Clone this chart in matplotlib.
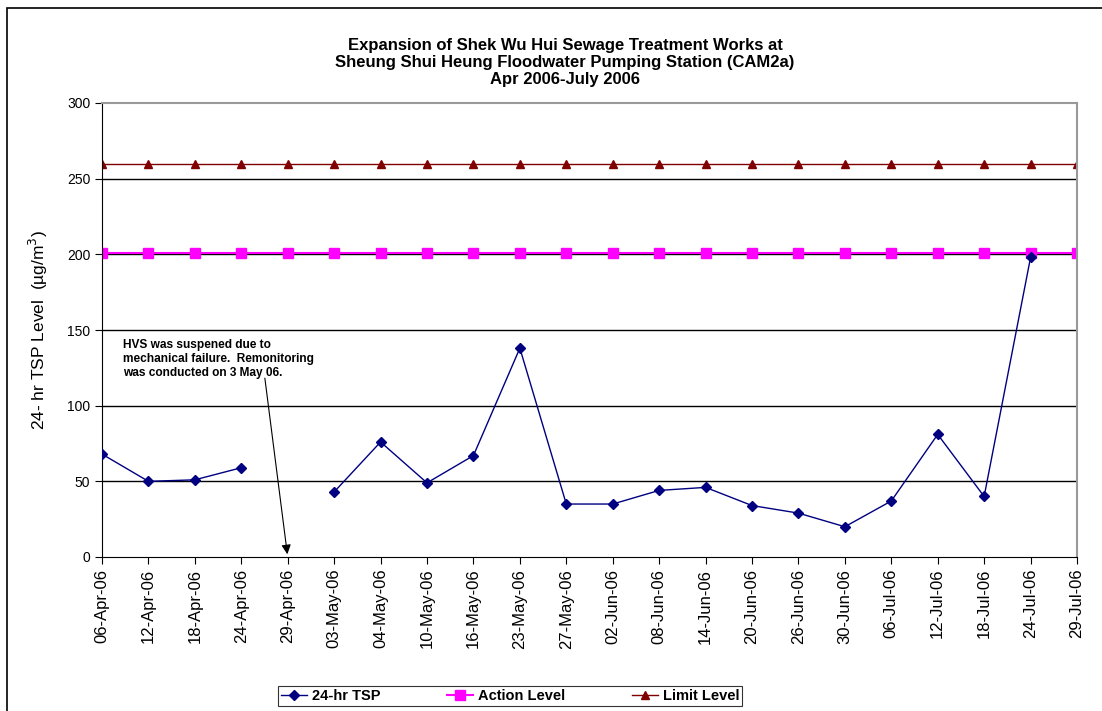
import matplotlib.pyplot as plt
import numpy as np
from matplotlib.patches import Rectangle

plt.rcParams['font.family'] = ['Liberation Sans', 'DejaVu Sans']

dates = ["06-Apr-06", "12-Apr-06", "18-Apr-06", "24-Apr-06", "29-Apr-06", "03-May-06",
         "04-May-06", "10-May-06", "16-May-06", "23-May-06", "27-May-06", "02-Jun-06",
         "08-Jun-06", "14-Jun-06", "20-Jun-06", "26-Jun-06", "30-Jun-06", "06-Jul-06",
         "12-Jul-06", "18-Jul-06", "24-Jul-06", "29-Jul-06"]
tsp = [68, 50, 51, 59, np.nan, 43, 76, 49, 67, 138, 35, 35, 44, 46, 34, 29, 20, 37, 81, 40, 198, np.nan]
action_level = [201] * len(dates)
limit_level = [260] * len(dates)

x = np.arange(len(dates))

fig = plt.figure(figsize=(11.02, 7.11), dpi=100)
ax = fig.add_axes([102 / 1102, 1 - 557 / 711, (1077 - 102) / 1102, (557 - 103) / 711])

# outer chart frame
fig.patches.append(Rectangle((7 / 1102, -0.05), 1.1, 1 - 8 / 711 + 0.05, transform=fig.transFigure,
                             fill=False, edgecolor='black', linewidth=1.2))

for yv in [50, 100, 150, 200, 250]:
    ax.axhline(yv, color='black', linewidth=1, zorder=1)

ax.plot(x, tsp, color='#000080', marker='D', markersize=5, linewidth=1, label='24-hr TSP', zorder=3)
ax.plot(x, action_level, color='#FF00FF', marker='s', markersize=6.5, linewidth=1.5, label='Action Level', zorder=2)
ax.plot(x, limit_level, color='#800000', marker='^', markersize=6, linewidth=1, label='Limit Level', zorder=2)

ax.set_xlim(0, len(dates) - 1)
ax.set_ylim(0, 300)
ax.set_yticks(range(0, 301, 50))
ax.set_xticks(x)
ax.set_xticklabels(dates, rotation=90, fontsize=12)
ax.tick_params(axis='y', labelsize=10, direction='out', length=5)
ax.tick_params(axis='x', direction='out', length=5)

for side in ['top', 'right']:
    ax.spines[side].set_color('#999999')
    ax.spines[side].set_linewidth(1.5)
ax.spines['left'].set_color('black')
ax.spines['bottom'].set_color('black')

ax.set_ylabel('24- hr TSP Level  (µg/m$^3$)', fontsize=12.5, labelpad=12)

fig.text(565 / 1102, 1 - 38 / 711,
         'Expansion of Shek Wu Hui Sewage Treatment Works at\n'
         'Sheung Shui Heung Floodwater Pumping Station (CAM2a)\n'
         'Apr 2006-July 2006',
         ha='center', va='top', fontsize=12, fontweight='bold', linespacing=1.15)

ax.annotate('', xy=(4, 0), xytext=(3.5, 120),
            arrowprops=dict(arrowstyle='-|>', color='black', lw=0.8, mutation_scale=14))
ax.text(0.45, 144, 'HVS was suspened due to\nmechanical failure.  Remonitoring\nwas conducted on 3 May 06.',
        fontsize=8.6, fontweight='bold', va='top', ha='left', linespacing=1.2)

leg = fig.legend(loc='center', bbox_to_anchor=(510 / 1102, 1 - 696 / 711), ncol=3,
                 prop={'weight': 'bold', 'size': 10.5}, frameon=True, fancybox=False,
                 edgecolor='black', handlelength=1.8, columnspacing=4.6, borderpad=0.2,
                 handletextpad=0.3, borderaxespad=0)
leg.get_frame().set_linewidth(0.8)

fig.savefig('out.png', dpi=100)
